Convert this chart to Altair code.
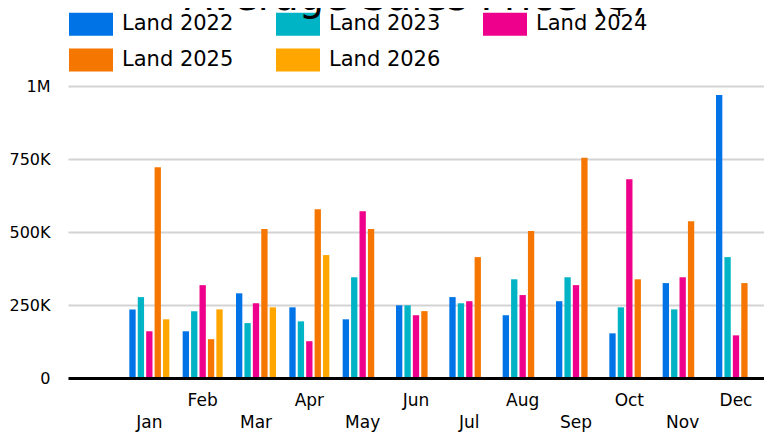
import altair as alt
import pandas as pd

months = ["Jan", "Feb", "Mar", "Apr", "May", "Jun", "Jul", "Aug", "Sep", "Oct", "Nov", "Dec"]
series = ["Land 2022", "Land 2023", "Land 2024", "Land 2025", "Land 2026"]
colors = ["#0073e6", "#00b4c5", "#ef008c", "#f57600", "#ffa600"]

land_2022 = [235000, 160000, 290000, 242000, 201000, 249000, 277000, 215000, 263000, 153000, 325000, 969000]
land_2023 = [277000, 229000, 188000, 194000, 345000, 249000, 256000, 338000, 345000, 242000, 235000, 414000]
land_2024 = [160000, 318000, 256000, 126000, 571000, 215000, 263000, 284000, 318000, 681000, 345000, 146000]
land_2025 = [722000, 133000, 510000, 578000, 510000, 229000, 414000, 503000, 754000, 338000, 537000, 325000]
land_2026 = [201000, 235000, 242000, 421000]

y_ticks = [0, 250000, 500000, 750000, 1000000]

rows = []
for name, vals in zip(series, [land_2022, land_2023, land_2024, land_2025, land_2026]):
    for m, v in zip(months, vals):
        rows.append({"month": m, "series": name, "value": v})
df = pd.DataFrame(rows)

FONT = "DejaVu Sans"

chart = alt.Chart(df).mark_bar().encode(
    x=alt.X(
        "month:N",
        scale=alt.Scale(domain=[""] + months, paddingInner=0.25, paddingOuter=0.15),
        axis=alt.Axis(
            title=None,
            ticks=False,
            domainColor="black",
            domainWidth=3,
            labelFont=FONT,
            labelFontSize=17,
            labelColor="black",
            labelPadding=14,
            labelLineHeight=22,
            labelAngle=0,
            zindex=1,
            labelExpr="indexof(['Feb','Apr','Jun','Aug','Oct','Dec'], datum.value) >= 0 ? datum.value : ['', datum.value]",
        ),
    ),
    xOffset=alt.XOffset("series:N", scale=alt.Scale(domain=series, paddingInner=0.25, paddingOuter=0)),
    y=alt.Y(
        "value:Q",
        scale=alt.Scale(domain=[0, 1000000], nice=False),
        axis=alt.Axis(
            title=None,
            values=y_ticks,
            ticks=False,
            domain=False,
            gridColor="#d3d3d3",
            gridWidth=2,
            labelFont=FONT,
            labelFontSize=16,
            labelColor="black",
            labelPadding=18,
            labelExpr="datum.value == 0 ? '0' : (datum.value >= 1000000 ? '1M' : (datum.value / 1000) + 'K')",
        ),
    ),
    color=alt.Color(
        "series:N",
        scale=alt.Scale(domain=series, range=colors),
        legend=alt.Legend(
            title=None,
            orient="none",
            legendX=1,
            legendY=-84,
            direction="horizontal",
            columns=3,
            symbolType="M-1,-0.52H1V0.52H-1Z",
            symbolSize=1936,
            symbolStrokeWidth=0,
            symbolOpacity=1,
            labelFont=FONT,
            labelFontSize=21,
            labelColor="black",
            labelOffset=9,
            rowPadding=2,
            columnPadding=42,
            padding=0,
        ),
    ),
).properties(
    width=696,
    height=292,
    title=alt.TitleParams(
        "Average Sales Price ($)",
        font=FONT,
        fontSize=40,
        fontWeight="normal",
        color="black",
        anchor="middle",
        baseline="alphabetic",
        offset=0,
        dy=48,
    ),
    autosize=alt.AutoSizeParams(type="none"),
    padding={"left": 60, "top": 78, "right": 0, "bottom": 54},
).configure_view(stroke=None)

chart.save("out.html", embed_options={"renderer": "svg", "actions": False})
